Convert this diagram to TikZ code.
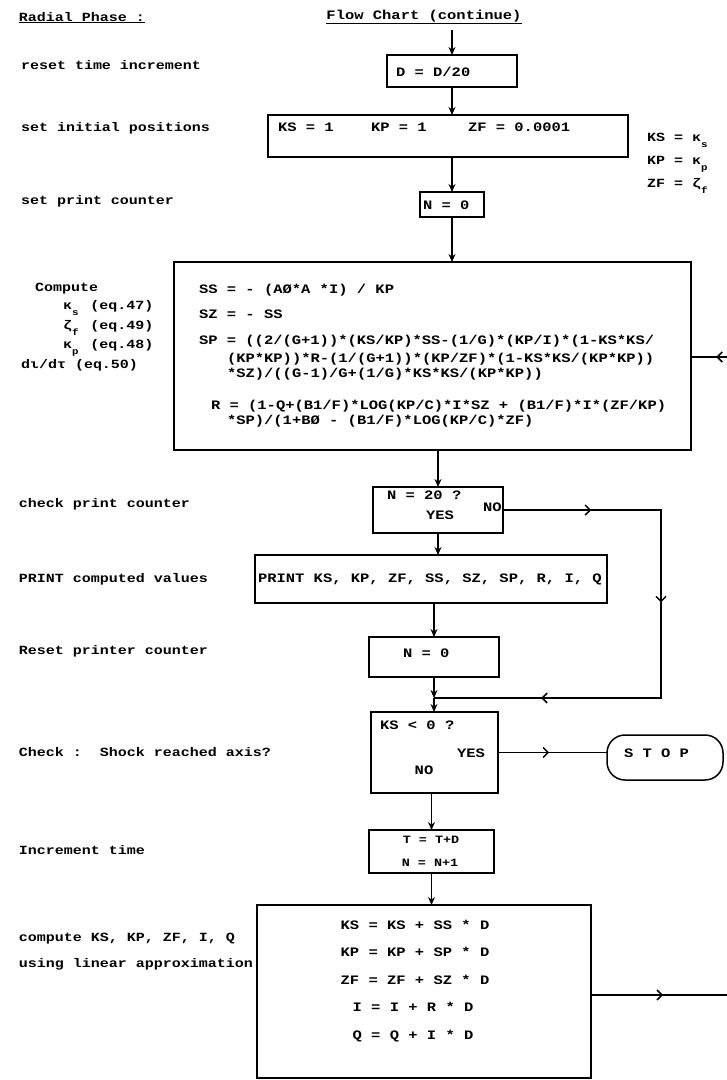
\documentclass[tikz,border=0pt]{standalone}
\usepackage{fontspec}
\setmainfont{Liberation Mono}[FakeStretch=1.2]
\usetikzlibrary{arrows.meta,decorations.markings}
\newcommand{\lowsub}[1]{\raisebox{-6pt}{\fontsize{9}{9}\selectfont #1}}
\begin{document}
\begin{tikzpicture}[x=1pt,y=-1pt,
  every node/.style={inner sep=0pt,outer sep=0pt},
  lbl/.style={anchor=west,font=\bfseries\fontsize{12.5}{14}\selectfont,text height=9pt,text depth=1pt},
  btxt/.style={font=\bfseries\fontsize{12.9}{14}\selectfont,text height=9pt,text depth=1pt},
  stxt/.style={font=\bfseries\fontsize{11.2}{13}\selectfont,text height=8pt,text depth=1pt},
  tbox/.style={draw,line width=1.5pt},
  conn/.style={line width=1.5pt},
  arr/.style={conn,-{Stealth[length=8pt,width=7pt]}},
  midarr/.style={conn,postaction={decorate},decoration={markings,
     mark=at position #1 with {\arrow{Straight Barb[length=5pt,width=10pt,line width=1.5pt]}}}},
  nopath/.style={conn,postaction={decorate},decoration={markings,
     mark=at position 0.154 with {\arrow{Straight Barb[length=5pt,width=10pt,line width=1.5pt]}},
     mark=at position 0.437 with {\arrow{Straight Barb[length=5pt,width=10pt,line width=1.5pt]}},
     mark=at position 0.813 with {\arrow{Straight Barb[length=5pt,width=10pt,line width=1.5pt]}}}},
]
\useasboundingbox (0,0) rectangle (727,1080);

% headings
\node[lbl] (radial) at (19,17) {\underline{Radial Phase :}};
\node[btxt] (title) at (424,15) {\underline{Flow Chart (continue)}};

% left labels
\node[lbl] (lreset) at (21,65) {reset time increment};
\node[lbl] (linit) at (21,127) {set initial positions};
\node[lbl] (lprint0) at (21,200) {set print counter};
\node[lbl] (lcomp) at (35,287) {Compute};
\node[lbl] (lks) at (63,305) {κ\lowsub{s}\hspace{12pt}(eq.47)};
\node[lbl] (lzf) at (63,325) {ζ\lowsub{f}\hspace{12pt}(eq.49)};
\node[lbl] (lkp) at (63,344) {κ\lowsub{p}\hspace{12pt}(eq.48)};
\node[lbl] (ldi) at (21,364) {dι/dτ (eq.50)};
\node[lbl] (lcheck) at (19,503) {check print counter};
\node[lbl] (lprint) at (19,578) {PRINT computed values};
\node[lbl] (lreset2) at (19,650) {Reset printer counter};
\node[lbl] (lshock) at (19,752) {Check :\ \ Shock reached axis?};
\node[lbl] (lincr) at (19,850) {Increment time};
\node[lbl] (lupd1) at (19,937) {compute KS, KP, ZF, I, Q};
\node[lbl] (lupd2) at (19,963) {using linear approximation};

% right notes
\node[lbl] (noteks) at (647,137) {KS = κ\lowsub{s}};
\node[lbl] (notekp) at (647,160) {KP = κ\lowsub{p}};
\node[lbl] (notezf) at (647,183) {ZF = ζ\lowsub{f}};

% boxes
\coordinate (topin) at (452,30);
\node[tbox,minimum width=130,minimum height=32] (dbox) at (452,71) {};
\node[btxt,anchor=west] (dtext) at (396,72) {D = D/20};

\node[tbox,minimum width=360,minimum height=42] (init) at (448,136) {};
\node[btxt,anchor=west] (initks) at (278,127) {KS = 1};
\node[btxt,anchor=west] (initkp) at (371,127) {KP = 1};
\node[btxt,anchor=west] (initzf) at (468,127) {ZF = 0.0001};

\node[tbox,minimum width=64,minimum height=25] (nzero) at (452,204.5) {};
\node[btxt,anchor=west] (nzerot) at (423,205) {N = 0};

\node[tbox,minimum width=517,minimum height=188] (compute) at (432.5,356) {};
\node[btxt,anchor=west] (eqss) at (199,289) {SS = - (AØ*A *I) / KP};
\node[btxt,anchor=west] (eqsz) at (199,314) {SZ = - SS};
\node[btxt,anchor=west] (eqsp1) at (199,340) {SP = ((2/(G+1))*(KS/KP)*SS-(1/G)*(KP/I)*(1-KS*KS/};
\node[btxt,anchor=west] (eqsp2) at (227,358) {(KP*KP))*R-(1/(G+1))*(KP/ZF)*(1-KS*KS/(KP*KP))};
\node[btxt,anchor=west] (eqsp3) at (227,373) {*SZ)/((G-1)/G+(1/G)*KS*KS/(KP*KP))};
\node[btxt,anchor=west] (eqr1) at (211,405) {R = (1-Q+(B1/F)*LOG(KP/C)*I*SZ + (B1/F)*I*(ZF/KP)};
\node[btxt,anchor=west] (eqr2) at (227,420) {*SP)/(1+BØ - (B1/F)*LOG(KP/C)*ZF)};
\coordinate (inr) at (727,357);

\node[tbox,minimum width=130,minimum height=46] (check) at (438,510) {};
\node[btxt,anchor=west] (checkq) at (387,495) {N = 20 ?};
\node[btxt] (checkyes) at (440,515) {YES};
\node[btxt,anchor=west] (checkno) at (483,507) {NO};
\coordinate (nod) at (661,698);
\coordinate (join) at (434,698);

\node[tbox,minimum width=352,minimum height=48] (print) at (431,579) {};
\node[btxt,anchor=west] (printt) at (258,578) {PRINT KS, KP, ZF, SS, SZ, SP, R, I, Q};

\node[tbox,minimum width=130,minimum height=40] (reset) at (434,657) {};
\node[btxt,anchor=west] (resett) at (403,653) {N = 0};

\node[tbox,minimum width=127,minimum height=81] (shock) at (434.5,752.5) {};
\node[btxt,anchor=west] (shockq) at (380,725) {KS < 0 ?};
\node[btxt,anchor=west] (shockyes) at (457,753) {YES};
\node[btxt] (shockno) at (424,770) {NO};

\node[tbox,rounded corners=18pt,minimum width=116,minimum height=45] (stop) at (665,757.5) {};
\node[btxt,anchor=west] (stopt) at (624,753) {S T O P};

\node[tbox,minimum width=125,minimum height=43] (incr) at (431.5,851.5) {};
\node[stxt] (incrt) at (431,840) {T = T+D};
\node[stxt] (incrn) at (430,863) {N = N+1};

\node[tbox,minimum width=334,minimum height=173] (update) at (424,991.5) {};
\node[btxt] (upks) at (415,925) {KS = KS + SS * D};
\node[btxt] (upkp) at (415,952) {KP = KP + SP * D};
\node[btxt] (upzf) at (415,980) {ZF = ZF + SZ * D};
\node[btxt] (upi) at (413,1007) {I = I + R * D};
\node[btxt] (upq) at (413,1035) {Q = Q + I * D};
\coordinate (outr) at (727,995);

% connectors
\draw[arr] (topin) -- (dbox.north);
\draw[arr] (dbox.south) -- (dbox.south |- init.north);
\draw[arr] (init.south -| nzero.north) -- (nzero.north);
\draw[arr] (nzero.south) -- (nzero.south |- compute.north);
\draw[midarr=0.3] (inr) -- (inr -| compute.east);
\draw[arr] (compute.south -| check.north) -- (check.north);
\draw[nopath] (check.east) -- (check.east -| nod) -- (nod) -- (join);
\draw[arr] (check.south) -- (check.south |- print.north);
\draw[arr] (print.south -| reset.north) -- (reset.north);
\draw[arr] (reset.south) -- (join);
\draw[arr] (join) -- (join |- shock.north);
\draw[midarr=0.47] (shock.east) -- (shock.east -| stop.west);
\draw[arr] (shock.south -| incr.north) -- (incr.north);
\draw[arr] (incr.south) -- (incr.south |- update.north);
\draw[midarr=0.53] (update.east |- outr) -- (outr);
\end{tikzpicture}
\end{document}
